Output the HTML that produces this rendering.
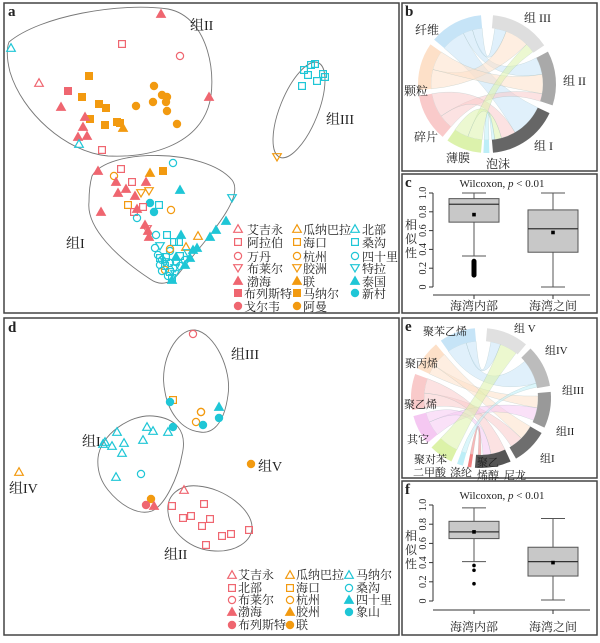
<!DOCTYPE html>
<html><head><meta charset="utf-8">
<style>
body{margin:0;background:#fff;}
svg text{font-family:"Liberation Serif","Noto Serif CJK SC","Noto Sans CJK SC",serif;fill:#222;}
.lg{font-size:12px;}
.gl{font-size:14px;}
.pl{font-size:15px;font-weight:bold;font-family:"Liberation Serif",serif;}
.ax{font-size:10px;}
</style></head><body>
<svg id="s" width="600" height="638" viewBox="0 0 600 638" xmlns="http://www.w3.org/2000/svg">
<rect x="0" y="0" width="600" height="638" fill="#fff"/>
<g fill="none" stroke="#444" stroke-width="1.5">
<rect x="4" y="3" width="395" height="310"/>
<rect x="402" y="3" width="195" height="168"/>
<rect x="402" y="174" width="195" height="139"/>
<rect x="4" y="318" width="395" height="317"/>
<rect x="402" y="318" width="195" height="160"/>
<rect x="402" y="481" width="195" height="154"/>
</g>
<text class="pl" x="8" y="16">a</text>
<text class="pl" x="405" y="16">b</text>
<text class="pl" x="405" y="187">c</text>
<text class="pl" x="8" y="332">d</text>
<text class="pl" x="405" y="331">e</text>
<text class="pl" x="405" y="494">f</text>

<g fill="none" stroke="#777" stroke-width="0.9">
<path d="M9,42 C40,16 120,2 168,9 C210,17 218,80 208,108 C195,145 150,158 108,156 C65,152 22,112 10,72 C7,60 6,50 9,42 Z"/>
<ellipse cx="299" cy="110" rx="19" ry="51" transform="rotate(22 299 110)"/>
<path d="M92,176 C108,148 205,148 232,180 C246,198 205,240 180,272 C170,285 160,286 150,279 C118,258 86,228 89,202 C89,192 90,183 92,176 Z"/>
<path d="M165,392 C158,360 178,328 195,330 C215,333 232,370 228,395 C224,425 212,434 200,432 C180,430 168,410 165,392 Z"/>
<path d="M98,458 C100,435 130,414 153,416 C175,418 188,430 182,455 C178,478 165,505 152,511 C138,516 120,505 108,490 C100,480 97,470 98,458 Z"/>
<path d="M168,512 C166,495 180,484 198,486 C225,488 252,510 252,527 C252,542 235,552 215,551 C190,550 170,532 168,512 Z"/>
</g>
<text class="gl" x="190" y="30">组II</text>
<text class="gl" x="326" y="124">组III</text>
<text class="gl" x="66" y="248">组I</text>
<text class="gl" x="231" y="359">组III</text>
<text class="gl" x="82" y="446">组I</text>
<text class="gl" x="258" y="471">组V</text>
<text class="gl" x="9" y="493">组IV</text>
<text class="gl" x="164" y="559">组II</text>

<g class="lg">
<text x="247" y="234">艾吉永</text><text x="247" y="247">阿拉伯</text><text x="247" y="261">万丹</text><text x="247" y="273">布莱尔</text><text x="247" y="286">渤海</text><text x="244" y="298">布列斯特</text><text x="244" y="311">戈尔韦</text>
<text x="303" y="234">瓜纳巴拉</text><text x="303" y="247">海口</text><text x="303" y="261">杭州</text><text x="303" y="273">胶洲</text><text x="303" y="286">联</text><text x="303" y="298">马纳尔</text><text x="303" y="311">阿曼</text>
<text x="362" y="234">北部</text><text x="362" y="247">桑沟</text><text x="362" y="261">四十里</text><text x="362" y="273">特拉</text><text x="362" y="286">泰国</text><text x="362" y="298">新村</text>
</g>
<g class="lg">
<text x="238" y="579">艾吉永</text><text x="238" y="592">北部</text><text x="238" y="604">布莱尔</text><text x="238" y="616">渤海</text><text x="238" y="629">布列斯特</text>
<text x="296" y="579">瓜纳巴拉</text><text x="296" y="592">海口</text><text x="296" y="604">杭州</text><text x="296" y="616">胶州</text><text x="296" y="629">联</text>
<text x="356" y="579">马纳尔</text><text x="356" y="592">桑沟</text><text x="356" y="604">四十里</text><text x="356" y="616">象山</text>
</g>

<g id="pts"></g>
<g id="chords"></g>

<g class="gl" style="font-size:12px">
<text x="415" y="34">纤维</text><text x="524" y="22">组 III</text><text x="563" y="85">组 II</text>
<text x="404" y="95">颗粒</text><text x="414" y="141">碎片</text><text x="534" y="150">组 I</text>
<text x="446" y="162">薄膜</text><text x="486" y="168">泡沫</text>
</g>
<g class="gl" style="font-size:11px">
<text x="423" y="335">聚苯乙烯</text><text x="514" y="332">组 V</text><text x="545" y="354">组IV</text>
<text x="562" y="394">组III</text><text x="556" y="435">组II</text><text x="540" y="462">组I</text>
<text x="405" y="367">聚丙烯</text><text x="404" y="408">聚乙烯</text><text x="407" y="443">其它</text>
<text x="414" y="463">聚对苯</text><text x="413" y="476">二甲酸</text><text x="450" y="476">涤纶</text>
<text x="477" y="466">聚乙</text><text x="477" y="479">烯醇</text><text x="504" y="479">尼龙</text>
</g>

<g id="box"></g>
<text x="502" y="187" font-size="11" text-anchor="middle">Wilcoxon,  <tspan font-style="italic">p</tspan> &lt; 0.01</text>
<text x="502" y="499" font-size="11" text-anchor="middle">Wilcoxon,  <tspan font-style="italic">p</tspan> &lt; 0.01</text>
<g font-size="12">
<text x="474" y="310" text-anchor="middle">海湾内部</text><text x="553" y="310" text-anchor="middle">海湾之间</text>
<text x="474" y="631" text-anchor="middle">海湾内部</text><text x="553" y="631" text-anchor="middle">海湾之间</text>
<text x="405" y="229">相</text><text x="405" y="243">似</text><text x="405" y="257">性</text>
<text x="405" y="540">相</text><text x="405" y="554">似</text><text x="405" y="568">性</text>
</g>
<g class="ax" id="ticks"></g>
</svg>
<script>
var NS="http://www.w3.org/2000/svg";
function el(p,t,a){var e=document.createElementNS(NS,t);for(var k in a)e.setAttribute(k,a[k]);p.appendChild(e);return e;}
var P=document.getElementById('pts');
var PK="#ef6670",OR="#f29a10",CY="#1fc6d6";
function m(t,c,x,y){var s=3.9,f=t[1]=='f'?c:'none',sw=1.2;var a={fill:f,stroke:c,'stroke-width':sw};
 if(t[0]=='t'){a.points=(x)+','+(y-s-0.4)+' '+(x+s+0.4)+','+(y+s-0.6)+' '+(x-s-0.4)+','+(y+s-0.6);el(P,'polygon',a);}
 else if(t[0]=='d'){a.points=(x)+','+(y+s)+' '+(x+s+0.4)+','+(y-s+0.6)+' '+(x-s-0.4)+','+(y-s+0.6);el(P,'polygon',a);}
 else if(t[0]=='s'){a.x=x-s+0.5;a.y=y-s+0.5;a.width=2*s-1;a.height=2*s-1;el(P,'rect',a);}
 else {a.cx=x;a.cy=y;a.r=s-0.3;el(P,'circle',a);}}
var A=[
['tf',PK,161,14],['to',CY,11,48],['so',PK,122,44],['co',PK,180,56],['sf',OR,89,76],['to',PK,39,83],['sf',PK,68,91],
['cf',OR,154,86],['sf',OR,82,97],['cf',OR,162,95],['cf',OR,167,97],['cf',OR,153,102],['cf',OR,166,102],['cf',OR,136,106],['cf',OR,167,111],['cf',OR,177,124],
['tf',PK,209,97],['tf',PK,61,107],['sf',OR,99,104],['sf',OR,106,108],['sf',OR,90,119],['sf',OR,117,122],['sf',OR,120,123],['sf',OR,105,125],
['tf',PK,85,117],['tf',PK,83,127],['tf',PK,78,137],['tf',PK,87,136],['tf',OR,123,128],['to',CY,79,144],['so',PK,102,150],
['so',CY,304,70],['so',CY,311,65],['so',CY,315,64],['so',CY,308,75],['so',CY,323,74],['so',CY,325,77],['so',CY,317,81],['so',CY,302,86],['do',OR,277,157],
['tf',PK,98,171],['so',PK,121,169],['co',OR,114,176],['tf',OR,150,173],['sf',OR,163,171],['co',CY,173,163],['tf',PK,116,182],['tf',PK,146,182],['so',PK,132,182],
['tf',PK,118,193],['tf',PK,126,189],['tf',PK,135,196],['do',OR,141,193],['do',OR,149,191],['tf',CY,180,190],['do',CY,232,198],['cf',CY,150,203],['cf',CY,154,212],
['so',CY,159,205],['so',OR,128,205],['so',PK,143,207],['so',PK,134,212],['tf',PK,137,209],['co',OR,171,210],['tf',PK,101,212],['co',CY,137,218],
['tf',CY,226,221],['tf',CY,216,230],['tf',CY,210,237],['tf',PK,145,225],['tf',PK,148,231],['tf',PK,149,237],['do',PK,147,229],['co',CY,156,235],['so',CY,167,235],['tf',CY,181,235],['to',OR,198,236],
['co',CY,155,248],['so',CY,174,242],['so',CY,179,242],['do',CY,160,246],['to',OR,186,247],['co',CY,170,251],['tf',CY,193,250],['tf',CY,197,248],['do',CY,188,253],
['co',CY,158,255],['co',CY,162,260],['so',CY,166,257],['co',OR,170,249],['tf',CY,176,257],['so',CY,180,256],['co',CY,185,260],['tf',CY,190,258],
['co',CY,160,265],['so',CY,165,266],['co',CY,170,263],['do',CY,175,268],['co',CY,180,266],['tf',CY,185,265],['co',OR,165,270],['so',CY,170,272],
['co',CY,162,271],['do',CY,175,274],['co',CY,168,276],['so',CY,172,278],['tf',CY,172,280],['do',CY,165,262],['co',CY,176,262],['so',CY,160,258],
['to',PK,238,229],['so',PK,238,242],['co',PK,238,256],['do',PK,238,268],['tf',PK,238,281],['sf',PK,238,293],['cf',PK,238,306],
['to',OR,297,229],['so',OR,297,242],['co',OR,297,256],['do',OR,297,268],['tf',OR,297,281],['sf',OR,297,293],['cf',OR,297,306],
['to',CY,355,229],['so',CY,355,242],['co',CY,355,256],['do',CY,355,268],['tf',CY,355,281],['cf',CY,355,293],
['co',PK,193,334],['so',OR,173,400],['cf',CY,170,402],['co',OR,201,412],['co',OR,201,412],['tf',CY,219,407],['cf',CY,219,418],['co',OR,196,422],['cf',CY,203,425],['cf',CY,173,427],
['to',CY,117,432],['to',CY,147,427],['to',CY,153,431],['to',CY,168,432],['to',CY,143,440],['to',CY,124,443],['to',CY,105,442],['to',CY,103,444],['to',CY,112,446],['to',CY,122,453],['to',CY,116,477],
['co',CY,141,474],['cf',OR,151,499],['cf',PK,146,505],['tf',PK,154,506],['to',OR,19,472],['cf',OR,251,464],
['to',PK,184,490],['so',PK,172,506],['so',PK,204,504],['so',PK,183,518],['so',PK,191,516],['so',PK,210,519],['so',PK,202,526],['so',PK,222,536],['so',PK,231,534],['so',PK,249,530],['so',PK,206,545],
['to',PK,232,575],['so',PK,232,588],['co',PK,232,600],['tf',PK,232,612],['cf',PK,232,625],
['to',OR,290,575],['so',OR,290,588],['co',OR,290,600],['tf',OR,290,612],['cf',OR,290,625],
['to',CY,349,575],['co',CY,349,588],['tf',CY,349,600],['cf',CY,349,612]];
A.forEach(function(p){m(p[0],p[1],p[2],p[3]);});

var C=document.getElementById('chords');
function pt(cx,cy,r,a){a=a*Math.PI/180;return [cx+r*Math.sin(a),cy-r*Math.cos(a)];}
function band(cx,cy,r1,r2,a1,a2,c){var p1=pt(cx,cy,r2,a1),p2=pt(cx,cy,r2,a2),p3=pt(cx,cy,r1,a2),p4=pt(cx,cy,r1,a1);var L=(a2-a1)>180?1:0;
 el(C,'path',{d:'M'+p1+' A'+r2+','+r2+' 0 '+L+' 1 '+p2+' L'+p3+' A'+r1+','+r1+' 0 '+L+' 0 '+p4+' Z',fill:c});}
function rib(cx,cy,r,a1,a2,b1,b2,c){var p1=pt(cx,cy,r,a1),p2=pt(cx,cy,r,a2),q1=pt(cx,cy,r,b1),q2=pt(cx,cy,r,b2);
 el(C,'path',{d:'M'+p1+' A'+r+','+r+' 0 0 1 '+p2+' Q'+cx+','+cy+' '+q1+' A'+r+','+r+' 0 0 1 '+q2+' Q'+cx+','+cy+' '+p1+' Z',fill:c,'fill-opacity':0.55,stroke:'#8aa',"stroke-opacity":0.35,'stroke-width':0.5});}
var bx=487,by=84,R1=56,R2=69;
var FB="#c6e4f7",KL="#fde0c8",SP="#f9caca",BM="#dcf2ac",PM="#bdeef7";
rib(bx,by,R1,310,335,115,150,FB);rib(bx,by,R1,335,345,62,80,FB);rib(bx,by,R1,345,355,8,20,FB);
rib(bx,by,R1,265,285,20,45,KL);rib(bx,by,R1,285,305,80,100,KL);
rib(bx,by,R1,220,235,100,108,SP);rib(bx,by,R1,235,260,150,165,SP);
rib(bx,by,R1,185,200,45,55,BM);rib(bx,by,R1,200,215,165,172,BM);rib(bx,by,R1,178,183,172,175,PM);
band(bx,by,R1,R2,5,56,"#dedede");band(bx,by,R1,R2,62,108,"#a9a9a9");band(bx,by,R1,R2,115,175,"#666");
band(bx,by,R1,R2,178,183,PM);band(bx,by,R1,R2,185,215,BM);band(bx,by,R1,R2,220,260,SP);band(bx,by,R1,R2,265,305,KL);band(bx,by,R1,R2,310,355,FB);
var ex=481,ey=398,E1=57,E2=70;
var PS="#c6e4f7",PP="#fde0c8",PE="#f9caca",QT="#f5c8f2",DL="#dcf2a8",PV="#bdeef7",NL="#f08080";
rib(ex,ey,E1,325,345,50,75,PS);rib(ex,ey,E1,345,355,10,20,PS);
rib(ex,ey,E1,295,305,88,100,PP);rib(ex,ey,E1,305,320,120,135,PP);
rib(ex,ey,E1,260,275,135,148,PE);rib(ex,ey,E1,275,290,155,170,PE);
rib(ex,ey,E1,230,245,100,113,QT);rib(ex,ey,E1,245,255,170,178,QT);
rib(ex,ey,E1,205,225,20,38,DL);rib(ex,ey,E1,195,200,75,79,PV);rib(ex,ey,E1,188,191,180,183,NL);
band(ex,ey,E1,E2,5,40,"#e0e0e0");band(ex,ey,E1,E2,45,80,"#bcbcbc");band(ex,ey,E1,E2,85,115,"#999");band(ex,ey,E1,E2,120,150,"#6e6e6e");band(ex,ey,E1,E2,155,185,"#555");
band(ex,ey,E1,E2,188,191,NL);band(ex,ey,E1,E2,195,200,PV);band(ex,ey,E1,E2,205,225,DL);band(ex,ey,E1,E2,230,255,QT);band(ex,ey,E1,E2,260,290,PE);band(ex,ey,E1,E2,295,320,PP);band(ex,ey,E1,E2,325,355,PS);

var B=document.getElementById('box'),T=document.getElementById('ticks');
function bp(y0,k,axY,b){var Y=function(v){return y0-k*v;};
 el(B,'line',{x1:433,y1:Y(1),x2:433,y2:Y(0),stroke:'#333','stroke-width':1});
 el(B,'line',{x1:433,y1:axY,x2:590,y2:axY,stroke:'#333','stroke-width':1});
 [0,0.2,0.4,0.6,0.8,1.0].forEach(function(v){el(B,'line',{x1:429,y1:Y(v),x2:433,y2:Y(v),stroke:'#333'});
  var t=el(T,'text',{x:0,y:0,transform:'translate(426,'+Y(v)+') rotate(-90)','text-anchor':'middle'});t.textContent=v==0?'0':v.toFixed(1);});
 [474,553].forEach(function(x){el(B,'line',{x1:x,y1:axY,x2:x,y2:axY+4,stroke:'#333'});});
 b.forEach(function(s){var x=s.x;
  el(B,'line',{x1:x,y1:Y(s.lo),x2:x,y2:Y(s.hi),stroke:'#555'});
  el(B,'line',{x1:x-12,y1:Y(s.lo),x2:x+12,y2:Y(s.lo),stroke:'#555'});
  el(B,'line',{x1:x-12,y1:Y(s.hi),x2:x+12,y2:Y(s.hi),stroke:'#555'});
  el(B,'rect',{x:x-25,y:Y(s.q3),width:50,height:Y(s.q1)-Y(s.q3),fill:'#c8c8c8',stroke:'#555'});
  el(B,'line',{x1:x-25,y1:Y(s.md),x2:x+25,y2:Y(s.md),stroke:'#333','stroke-width':1.2});
  el(B,'rect',{x:x-1.8,y:Y(s.mn)-1.8,width:3.6,height:3.6,fill:'#000'});
  (s.out||[]).forEach(function(o){el(B,'circle',{cx:x,cy:Y(o),r:1.8,fill:'#000'});});
  if(s.dense)el(B,'rect',{x:x-2.5,y:Y(s.dense[1]),width:5,height:Y(s.dense[0])-Y(s.dense[1]),rx:2.5,fill:'#000'});
 });}
bp(287,94,295,[{x:474,lo:0.33,hi:1.0,q1:0.69,q3:0.94,md:0.88,mn:0.77,dense:[0.1,0.3]},{x:553,lo:0,hi:1.0,q1:0.37,q3:0.82,md:0.62,mn:0.58}]);
bp(601,96,610,[{x:474,lo:0.41,hi:0.97,q1:0.65,q3:0.83,md:0.72,mn:0.72,out:[0.37,0.32,0.18]},{x:553,lo:0.01,hi:0.86,q1:0.26,q3:0.56,md:0.41,mn:0.40}]);
</script>
</body></html>
